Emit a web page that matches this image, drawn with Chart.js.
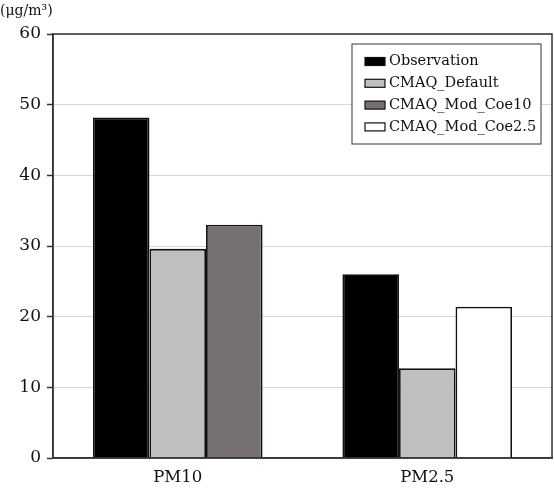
<!DOCTYPE html>
<html>
<head>
<meta charset="utf-8">
<script src="https://cdn.jsdelivr.net/npm/chart.js@4.4.1/dist/chart.umd.min.js"></script>
<style>
html,body{margin:0;padding:0;background:#fff;}
#wrap{width:554px;height:488px;position:relative;}
</style>
</head>
<body>
<div id="wrap"><canvas id="c" width="554" height="488"></canvas></div>
<script>
const categories = ["PM10", "PM2.5"];
const observation = [48.2, 26.0];
const cmaqDefault = [29.6, 12.7];
const cmaqModCoe10 = [33.0, null];
const cmaqModCoe25 = [null, 21.4];
const seriesNames = ["Observation", "CMAQ_Default", "CMAQ_Mod_Coe10", "CMAQ_Mod_Coe2.5"];
const seriesColors = ["#000000", "#c0c0c0", "#767070", "#ffffff"];
const yTicks = [0, 10, 20, 30, 40, 50, 60];
const unitLabel = "(\u03bcg/m\u00b3)";

const FONT = "'DejaVu Serif', 'Liberation Serif', serif";

const frame = {
  id: 'frame',
  afterDraw(chart) {
    const {ctx, chartArea: a} = chart;
    ctx.save();
    ctx.strokeStyle = '#333';
    ctx.lineWidth = 1.5;
    ctx.strokeRect(a.left, a.top, a.right - a.left, a.bottom - a.top);
    // unit label
    ctx.fillStyle = '#111';
    ctx.font = "14px " + FONT;
    ctx.textBaseline = 'middle';
    ctx.textAlign = 'left';
    ctx.fillText(unitLabel, 0, 11);
    // legend
    const lx = 352, ly = 44, lw = 189, lh = 100;
    ctx.fillStyle = '#fff';
    ctx.fillRect(lx, ly, lw, lh);
    ctx.strokeStyle = '#555';
    ctx.lineWidth = 1.2;
    ctx.strokeRect(lx, ly, lw, lh);
    chart.data.datasets.forEach((ds, i) => {
      const y = 61.5 + i * 21.8;
      ctx.fillStyle = ds.backgroundColor;
      ctx.fillRect(365, y - 4, 20, 8);
      ctx.strokeStyle = '#111';
      ctx.lineWidth = 1.2;
      ctx.strokeRect(365, y - 4, 20, 8);
      ctx.fillStyle = '#111';
      ctx.font = "14.5px " + FONT;
      ctx.textAlign = 'left';
      ctx.textBaseline = 'middle';
      ctx.fillText(ds.label, 389, y);
    });
    ctx.restore();
  }
};

const dataArrays = [observation, cmaqDefault, cmaqModCoe10, cmaqModCoe25];

new Chart(document.getElementById('c'), {
  type: 'bar',
  data: {
    labels: categories,
    datasets: dataArrays.map((d, i) => ({
      label: seriesNames[i],
      data: d,
      backgroundColor: seriesColors[i],
      borderColor: '#111',
      borderWidth: 1.8,
      skipNull: true,
      barPercentage: 1.0,
      categoryPercentage: 0.68
    }))
  },
  options: {
    responsive: false,
    animation: false,
    devicePixelRatio: 1,
    layout: { padding: { top: 34, right: 2, left: 0, bottom: 0 } },
    plugins: { legend: { display: false }, tooltip: { enabled: false }, title: { display: false } },
    scales: {
      x: {
        grid: { display: false, drawTicks: false },
        border: { display: true, color: '#333', width: 1.5 },
        ticks: { color: '#111', font: { family: FONT, size: 16.5 }, padding: 10 },
        afterFit(scale) { scale.height = 30; }
      },
      y: {
        min: 0, max: 60,
        afterBuildTicks(scale) { scale.ticks = yTicks.map(v => ({ value: v })); },
        grid: { color: '#d6d6d6', lineWidth: 1, tickLength: 6, tickColor: '#333', tickWidth: 1.5 },
        border: { display: true, color: '#333', width: 1.5 },
        ticks: { color: '#111', font: { family: FONT, size: 17 }, padding: 6 },
        afterFit(scale) { scale.width = 53; }
      }
    }
  },
  plugins: [frame]
});
</script>
</body>
</html>
